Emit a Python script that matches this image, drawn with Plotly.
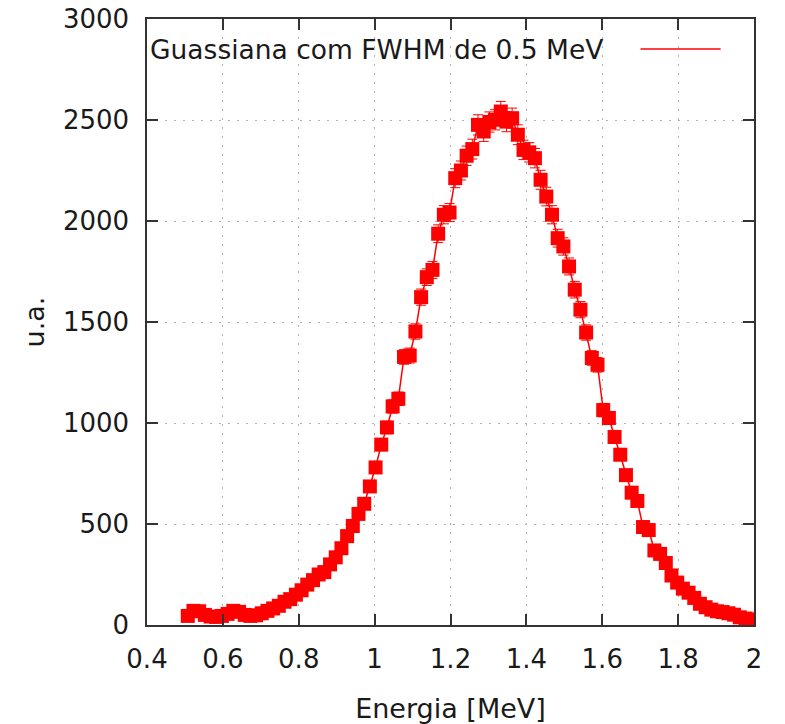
import plotly.graph_objects as go

# Bin centres (MeV)
energy = [round(0.5075 + 0.015 * i, 4) for i in range(100)]

counts = [
    45, 70, 68, 50, 42, 40, 45, 55, 70, 65,
    50, 45, 48, 58, 70, 82, 95, 115, 128, 150,
    172, 200, 222, 250, 262, 300, 335, 380, 440, 490,
    550, 600, 686, 780, 893, 978, 1082, 1120, 1327, 1334,
    1453, 1623, 1722, 1758, 1937, 2031, 2042, 2212, 2250, 2323,
    2356, 2476, 2443, 2490, 2501, 2542, 2492, 2509, 2427, 2352,
    2340, 2311, 2204, 2121, 2031, 1915, 1874, 1775, 1660, 1561,
    1448, 1322, 1288, 1064, 1025, 931, 843, 742, 655, 614,
    485, 470, 369, 352, 307, 245, 210, 180, 160, 134,
    105, 88, 76, 68, 64, 58, 51, 38, 32, 28,
]

errors = [
    7, 8, 8, 7, 6, 6, 7, 7, 8, 8,
    7, 7, 7, 8, 8, 9, 10, 11, 11, 12,
    13, 14, 15, 16, 16, 17, 18, 19, 21, 22,
    23, 24, 26, 28, 30, 31, 33, 33, 36, 37,
    38, 40, 41, 42, 44, 45, 45, 47, 47, 48,
    49, 50, 49, 50, 50, 50, 50, 50, 49, 48,
    48, 48, 47, 46, 45, 44, 43, 42, 41, 40,
    38, 36, 36, 33, 32, 31, 29, 27, 26, 25,
    22, 22, 19, 19, 18, 16, 14, 13, 13, 12,
    10, 9, 9, 8, 8, 8, 7, 6, 6, 5,
]

x_ticks = [0.4, 0.6, 0.8, 1.0, 1.2, 1.4, 1.6, 1.8, 2.0]
x_tick_labels = ["0.4", "0.6", "0.8", "1", "1.2", "1.4", "1.6", "1.8", "2"]
y_ticks = [0, 500, 1000, 1500, 2000, 2500, 3000]

legend_label = "Guassiana com FWHM de 0.5 MeV"
x_title = "Energia [MeV]"
y_title = "u.a."

RED = "#ff0000"
TXT = "#1a1a1a"
FONT = "DejaVu Sans"

fig = go.Figure()
fig.add_trace(go.Scatter(
    x=energy, y=counts,
    mode="lines+markers",
    line=dict(color=RED, width=1.5),
    marker=dict(symbol="square", size=14, color=RED, line=dict(width=0)),
    error_y=dict(type="data", array=errors, visible=True, color=RED, thickness=1, width=5),
    showlegend=False,
    name=legend_label,
))

axis_common = dict(
    showline=True, linecolor="#333333", linewidth=1.5, mirror="allticks",
    ticks="inside", ticklen=11, tickwidth=1.5, tickcolor="#333333",
    showgrid=True, gridcolor="#b0b0b0", gridwidth=1.2, griddash="2px,7px",
    zeroline=False, automargin=False,
    tickfont=dict(family=FONT, size=26, color=TXT),
)

fig.update_xaxes(
    range=[0.4, 2.0], tickvals=x_ticks, ticktext=x_tick_labels,
    ticklabelstandoff=10,
    title=dict(text=x_title, font=dict(family=FONT, size=27, color=TXT), standoff=26),
    **axis_common,
)
fig.update_yaxes(
    range=[0, 3000], tickvals=y_ticks,
    ticklabelstandoff=11,
    title=dict(text=y_title, font=dict(family=FONT, size=27, color=TXT), standoff=10),
    **axis_common,
)

# gnuplot-style key: text right-justified, sample line to its right
fig.add_annotation(
    x=0.755, y=0.95, xref="paper", yref="paper",
    text=legend_label, showarrow=False, xanchor="right", yanchor="middle",
    font=dict(family=FONT, size=26.5, color=TXT),
)
fig.add_shape(
    type="line", xref="paper", yref="paper",
    x0=0.813, x1=0.945, y0=0.9505, y1=0.9505,
    line=dict(color=RED, width=1.5),
)

fig.update_layout(
    width=785, height=724,
    margin=dict(l=147, r=31, t=19, b=99),
    paper_bgcolor="white", plot_bgcolor="white",
    font=dict(family=FONT, color=TXT),
)

fig.write_html("out.html")
